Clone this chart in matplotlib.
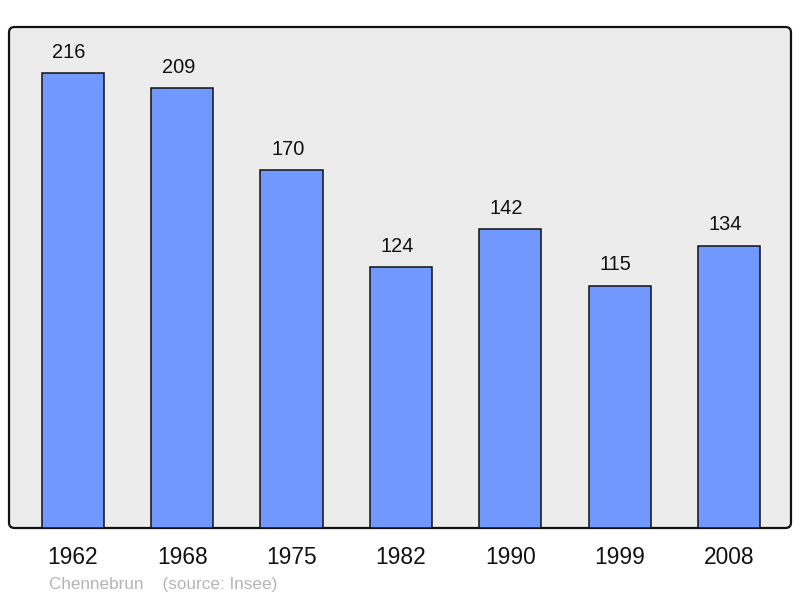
import matplotlib
matplotlib.use("Agg")
import matplotlib.pyplot as plt
from matplotlib.patches import FancyBboxPatch

years = ["1962", "1968", "1975", "1982", "1990", "1999", "2008"]
population = [216, 209, 170, 124, 142, 115, 134]

plt.rcParams['font.family'] = ['Liberation Sans', 'DejaVu Sans']

fig = plt.figure(figsize=(8, 5.98), dpi=100)
ax = fig.add_axes([9/800, 70/598, 782/800, 501/598])
ax.patch.set_visible(False)
for s in ax.spines.values():
    s.set_visible(False)

frame = FancyBboxPatch((0, 0), 1, 1, boxstyle="round,pad=0,rounding_size=0.007",
                       mutation_aspect=782/501, transform=ax.transAxes,
                       facecolor="#ececec", edgecolor="#111111", linewidth=1.6,
                       zorder=0, clip_on=False)
ax.add_patch(frame)

x = list(range(len(years)))
ax.bar(x, population, width=0.57, color="#7098ff", edgecolor="#111111",
       linewidth=1.1, zorder=2)

for xi, v in zip(x, population):
    ax.annotate(str(v), (xi, v), xytext=(-2.8, 15), textcoords="offset points",
                ha="center", va="center", fontsize=14.4, color="#111111")

ax.set_xlim(-0.585, 6.567)
ax.set_ylim(0, 237.9)
ax.set_yticks([])
ax.set_xticks(x)
ax.set_xticklabels(years, fontsize=16.4)
ax.tick_params(axis='x', length=0, pad=13, colors="#111111")

fig.text(49/800, 1 - 584/598, "Chennebrun    (source: Insee)", fontsize=12.3,
         color="#b4b4b4", ha="left", va="center")

fig.savefig("out.png", dpi=100)
